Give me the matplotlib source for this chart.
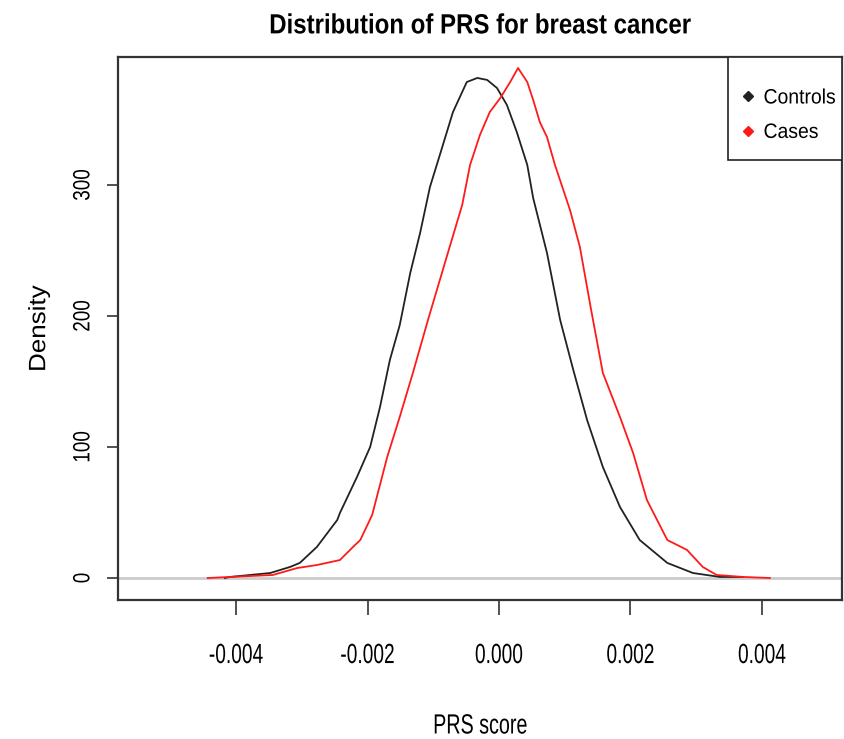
import matplotlib
matplotlib.use("Agg")
import matplotlib.pyplot as plt
import matplotlib.patheffects as pe
from matplotlib.lines import Line2D
from matplotlib.patches import Rectangle
from matplotlib.transforms import Affine2D

plt.rcParams['font.family'] = ['Liberation Sans', 'DejaVu Sans']

# density curves (x in PRS units, y = density)
controls_x = [-0.00417, -0.00409, -0.00348, -0.00318, -0.00303, -0.00277, -0.00246, -0.00242,
              -0.00216, -0.00196, -0.00181, -0.00166, -0.00151, -0.00135, -0.00120, -0.00105,
              -0.00090, -0.00070, -0.00049, -0.00033, -0.00018, -0.00003, 0.00012, 0.00027,
              0.00043, 0.00052, 0.00073, 0.00093, 0.00113, 0.00134, 0.00158, 0.00184,
              0.00214, 0.00256, 0.00295, 0.00336, 0.00371]
controls_y = [0, 0.8, 3.8, 8.4, 11.5, 23.7, 44.3, 49.6,
              77.1, 100, 130.5, 166.4, 193, 232.8, 263.4, 298.5,
              322.9, 355.7, 378.6, 381.7, 380.2, 374.0, 361.1, 340.5,
              315.3, 290, 248.1, 197, 158.8, 120.6, 84.7, 54.2,
              29, 11.5, 3.8, 0.8, 0.8]

cases_x = [-0.00443, -0.00344, -0.00307, -0.00277, -0.00242, -0.00222, -0.00211, -0.00193,
           -0.00170, -0.00151, -0.00131, -0.00108, -0.00082, -0.00056, -0.00044, -0.00029,
           -0.00014, 0.00002, 0.00017, 0.00029, 0.00043, 0.00052, 0.00062, 0.00073,
           0.00085, 0.00108, 0.00123, 0.00140, 0.00158, 0.00184, 0.00204, 0.00225,
           0.00256, 0.00286, 0.00310, 0.00331, 0.00371, 0.00412]
cases_y = [0, 2.3, 7.6, 9.9, 13.7, 23.7, 29, 48,
           92.4, 122.9, 156.5, 197, 241, 284.7, 315.3, 338.2,
           355.7, 366.4, 378.6, 389.3, 378.6, 364.9, 348.1, 336.6,
           315.5, 280.9, 252.7, 205, 156.5, 122.9, 95.4, 59.5,
           29, 21.4, 8.4, 2.3, 0.8, 0]

xticks = [-0.004, -0.002, 0.000, 0.002, 0.004]
yticks = [0, 100, 200, 300]
labels = ["Controls", "Cases"]
colors = ["#222222", "#ff1a1a"]


# the original uses a narrow font; squeeze the glyph paths along the text direction
class Squeeze(pe.AbstractPathEffect):
    def __init__(self, sx=1.0, sy=1.0, anchor="center"):
        super().__init__()
        self.sx, self.sy, self.anchor = sx, sy, anchor

    def draw_path(self, renderer, gc, tpath, affine, rgbFace=None):
        ext = tpath.get_extents(affine)
        cx = ext.x0 if self.anchor == "left" else (ext.x0 + ext.x1) / 2
        cy = (ext.y0 + ext.y1) / 2
        t = affine + Affine2D().translate(-cx, -cy).scale(self.sx, self.sy).translate(cx, cy)
        renderer.draw_path(gc, tpath, t, rgbFace)


fig = plt.figure(figsize=(8.45, 7.39), dpi=100)
ax = fig.add_axes([118/845, 1-600/739, (842-118)/845, (600-57)/739])

ax.axhline(0, color="#cccccc", lw=2, zorder=1)
ax.plot(controls_x, controls_y, color=colors[0], lw=1.3, zorder=2)
ax.plot(cases_x, cases_y, color=colors[1], lw=1.3, zorder=3)

ax.set_xlim(-0.005795, 0.005217)
ax.set_ylim(-16.8, 397.7)

ax.set_xticks(xticks)
ax.set_xticklabels([f"{v:.3f}" for v in xticks], fontsize=20)
ax.set_yticks(yticks)
ax.set_yticklabels([str(v) for v in yticks], rotation=90, va="center", fontsize=17)
ax.tick_params(axis="both", width=1.2, color="#333333")
ax.tick_params(axis="x", length=11, pad=20)
ax.tick_params(axis="y", length=8, pad=9)
for t in ax.get_xticklabels():
    t.set_path_effects([Squeeze(sx=0.69)])
for t in ax.get_yticklabels():
    t.set_path_effects([Squeeze(sy=0.8)])

for s in ax.spines.values():
    s.set_linewidth(1.6)
    s.set_color("#333333")

xl = ax.set_xlabel("PRS score", fontsize=20, labelpad=32)
xl.set_path_effects([Squeeze(sx=0.71)])
yl = ax.set_ylabel("Density", fontsize=17, labelpad=16)
yl.set_path_effects([Squeeze(sy=1.1)])
tt = ax.set_title("Distribution of PRS for breast cancer", fontsize=20, fontweight="bold", pad=17)
tt.set_path_effects([Squeeze(sx=0.865)])

# legend box (R style, touching the top right corner)
ax.add_patch(Rectangle((0.8425, 0.810), 0.1575, 0.190, transform=ax.transAxes,
                       facecolor="white", edgecolor="#222222", lw=1.2, zorder=5))
handles = [Line2D([], [], ls="none", marker="D", markersize=5, color=c) for c in colors]
leg = ax.legend(handles, labels, loc="upper left", bbox_to_anchor=(0.857, 0.942),
                borderaxespad=0, borderpad=0, frameon=False, fontsize=15,
                handlelength=0.9, handletextpad=0.3, labelspacing=0.74)
leg.set_zorder(6)
for t in leg.get_texts():
    t.set_path_effects([Squeeze(sx=0.93, anchor="left")])

fig.savefig("out.png", dpi=100)
